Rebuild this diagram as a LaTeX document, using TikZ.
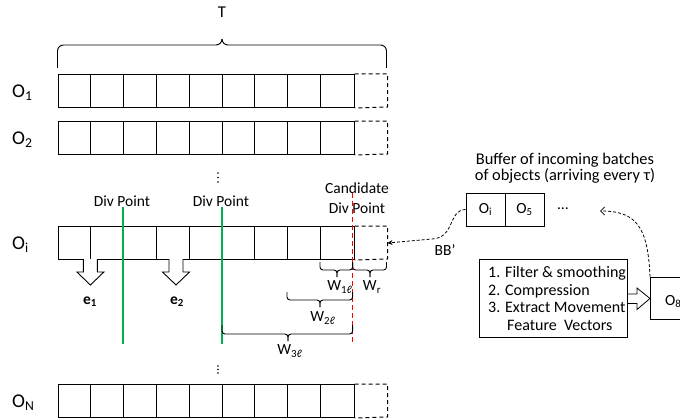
\documentclass[tikz,border=0pt]{standalone}
\usepackage{fontspec}
\setmainfont{Carlito}
\usetikzlibrary{arrows.meta}
\definecolor{divgreen}{RGB}{0,176,80}
\definecolor{candred}{RGB}{255,0,0}
\newcommand\objrow[3]{%
  \node[rowbox] (#1) at (57.5,#2) {};
  \foreach \k in {#3} \draw[cellline] ({57.5+\k*32.9},#2) -- ++(0,33);
  \draw[dashcell] (#1.north east) -- ++(32.9,0) -- ++(0,33) -- (#1.south east);
  \path (#1.east) ++(32.9,0) coordinate (#1tip);
}
\newcommand\wbrace[6]{%
  \draw[bracepath] (#1,#3) -- (#1,#4) -- (#6,#4) -- (#6,#5);
  \draw[bracepath] (#6,#5) -- (#6,#4) -- (#2,#4) -- (#2,#3);
}
\newcommand\blockarrow[1]{%
  \draw[blockst] ({#1-7},259) -- ({#1-7},272) -- ({#1-13.5},272) -- (#1,285)
    -- ({#1+13.5},272) -- ({#1+7},272) -- ({#1+7},259);
}
\begin{document}
\begin{tikzpicture}[x=1pt,y=-1pt,
  lbl/.style={font=\fontsize{15.5}{18}\selectfont, inner sep=0pt},
  rowlbl/.style={font=\fontsize{19.5}{22}\selectfont, inner sep=0pt, anchor=base west},
  rowbox/.style={draw, line width=1pt, minimum width=296.1pt, minimum height=33pt, anchor=north west, inner sep=0pt},
  cellline/.style={line width=1pt},
  dashcell/.style={line width=1pt, dash pattern=on 4pt off 3pt},
  bracepath/.style={line width=0.9pt, rounded corners=3pt},
  blockst/.style={line width=0.9pt, fill=white},
  greenline/.style={divgreen, line width=2pt},
  redline/.style={candred, line width=1.6pt, dash pattern=on 5pt off 3pt},
  bufbox/.style={draw, line width=1pt, minimum width=39pt, minimum height=33pt, inner sep=0pt, font=\fontsize{15.5}{18}\selectfont},
  dasharrow/.style={line width=0.8pt, dash pattern=on 3pt off 2pt},
]
\useasboundingbox (0,0) rectangle (680,420);

% brace T
\draw[bracepath, rounded corners=6pt] (57.5,68) -- (57.5,45) -- (222,45) -- (222,39);
\draw[bracepath, rounded corners=6pt] (222,39) -- (222,45) -- (386.5,45) -- (386.5,68);
\node[lbl, font=\fontsize{16.5}{18}\selectfont] (T) at (222,12) {T};

% rows
\objrow{r1}{74}{1,...,8}
\objrow{r2}{121}{1,...,8}
\objrow{ri}{226}{1,3,4,6,7,8}
\objrow{rn}{384}{1,...,8}

\node[rowlbl] (l1) at (12,97) {O\textsubscript{1}};
\node[rowlbl] (l2) at (12,144) {O\textsubscript{2}};
\node[rowlbl] (li) at (12,249) {O\textsubscript{i}};
\node[rowlbl] (ln) at (12,407) {O\textsubscript{N}};

% vertical dots
\foreach \yy in {173,177.5,182,366,369.5,373} \fill (218,\yy) circle (0.9pt);

% div points
\node[lbl] (dp1) at (122,201) {Div Point};
\node[lbl] (dp2) at (221,201) {Div Point};
\coordinate (g1a) at (123,207); \coordinate (g1b) at (123,344);
\coordinate (g2a) at (222,207); \coordinate (g2b) at (222,344);
\draw[greenline] (g1a) -- (g1b);
\draw[greenline] (g2a) -- (g2b);

% candidate
\node[lbl, align=center, font=\fontsize{15.5}{20}\selectfont] (cand) at (357,198) {Candidate\\Div Point};
\coordinate (ca) at (352.6,193); \coordinate (cb) at (352.6,344);
\draw[redline] (ca) -- (cb);

% block arrows
\blockarrow{90.4}
\blockarrow{176}
\node[lbl, font=\fontsize{15.5}{18}\selectfont\bfseries] (e1) at (90,302) {e\textsubscript{1}};
\node[lbl, font=\fontsize{15.5}{18}\selectfont\bfseries] (e2) at (177,302) {e\textsubscript{2}};

% W braces
\wbrace{320}{352.6}{262}{270}{277}{337}
\wbrace{352.6}{386.5}{262}{270}{277}{370}
\wbrace{287}{352.6}{292}{300}{307}{320}
\wbrace{222}{352.6}{325}{334}{341}{288}
\node[lbl] (w1) at (340,287) {W\textsubscript{1ℓ}};
\node[lbl] (wr) at (372,287) {W\textsubscript{r}};
\node[lbl] (w2) at (323,318) {W\textsubscript{2ℓ}};
\node[lbl] (w3) at (290,351) {W\textsubscript{3ℓ}};

% buffer
\node[lbl, align=center, font=\fontsize{16.4}{15.5}\selectfont] (buftxt) at (565,168) {Buffer of incoming batches\\of objects (arriving every τ)};
\node[bufbox] (bi) at (485.5,209.5) {O\textsubscript{i}};
\node[bufbox] (b5) at (524.5,209.5) {O\textsubscript{5}};
\node[lbl] (bdots) at (563,209) {…};
\node[lbl] (bb) at (445,250) {BB’};

% process box
\node[draw, line width=1pt, minimum width=148pt, minimum height=78pt, anchor=north west, inner sep=0pt] (proc) at (479,259) {};
\node[lbl, anchor=west, align=left, font=\fontsize{16}{17.7}\selectfont] (proctxt) at ([xshift=9pt]proc.west) {1. Filter \& smoothing\\2. Compression\\3. Extract Movement\\\hspace*{19pt}Feature\ \ Vectors};

% O8 box
\node[draw, line width=1pt, minimum width=40pt, minimum height=42pt, anchor=north west, inner sep=0pt] (o8) at (650,277) {};
\node[lbl, anchor=base west] (o8t) at (665,305) {O\textsubscript{8}};
\draw[blockst, line width=0.8pt] (proc.east) ++(0,-4.5) -- ++(9,0) -- ++(0,-6) -- (o8.west) -- ++(-13,11) -- ++(0,-6) -- ++(-9,0);

% dashed arrows
\draw[dasharrow, -{Stealth[length=5pt,width=5pt]}] (bi.west) .. controls (448,210) and (455,238) .. (432,239) -- (ritip);
\draw[dasharrow, -{Straight Barb[length=4pt,width=8pt]}] (o8.north west) .. controls (648,225) and (635,211) .. (600,211);
\end{tikzpicture}
\end{document}
